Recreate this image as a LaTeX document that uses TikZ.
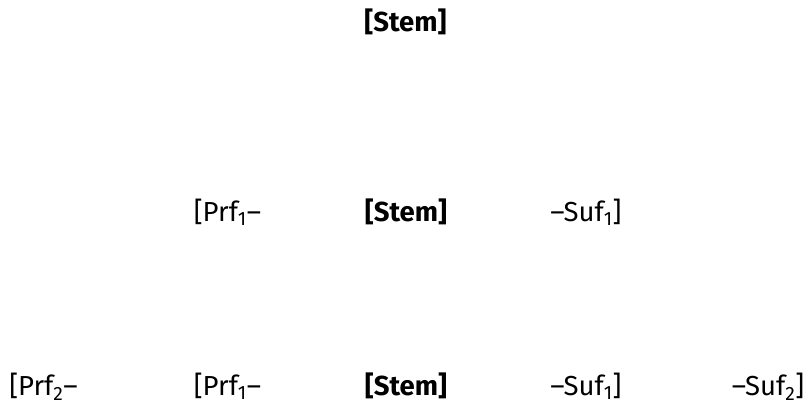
\documentclass[tikz,border=0pt]{standalone}
\usepackage{fontspec}
\setmainfont{Fira Sans}
\begin{document}
\begin{tikzpicture}[x=1pt,y=1pt,
  morph/.style={inner sep=0pt, anchor=base, font=\fontsize{27.5}{32}\selectfont},
  stemmorph/.style={morph, font=\fontsize{27.5}{32}\selectfont\bfseries}]
\useasboundingbox (0,0) rectangle (808,405);
% row 1
\node[stemmorph] (s0) at (405.5,373.5) {[Stem]};
% row 2
\node[morph] (p1a) at (227.5,183.5) {[Prf\textsubscript{1}–};
\node[stemmorph] (s1) at (406,183.5) {[Stem]};
\node[morph] (u1a) at (586,183.5) {–Suf\textsubscript{1}]};
% row 3
\node[morph] (p2) at (43.5,9.5) {[Prf\textsubscript{2}–};
\node[morph] (p1b) at (227.5,9.5) {[Prf\textsubscript{1}–};
\node[stemmorph] (s2) at (406,9.5) {[Stem]};
\node[morph] (u1b) at (586,9.5) {–Suf\textsubscript{1}]};
\node[morph] (u2) at (768,9.5) {–Suf\textsubscript{2}]};
\end{tikzpicture}
\end{document}
